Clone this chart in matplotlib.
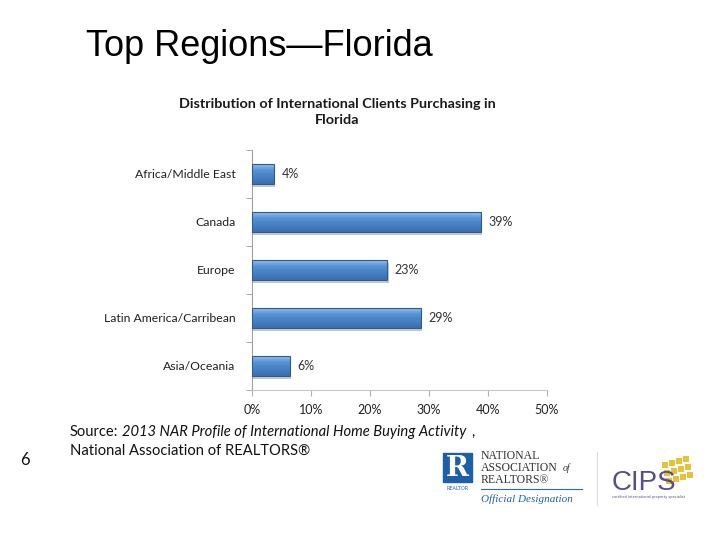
import matplotlib.pyplot as plt
import matplotlib.patches as mpatches
from matplotlib.colors import LinearSegmentedColormap
import numpy as np

regions = ['Africa/Middle East', 'Canada', 'Europe', 'Latin America/Carribean', 'Asia/Oceania']
shares = [3.7, 38.8, 22.9, 28.6, 6.4]
xticks = [0, 10, 20, 30, 40, 50]

fig = plt.figure(figsize=(7.2, 5.4), dpi=100)
fig.patch.set_facecolor('white')

# slide title
fig.text(86/720, 1 - 47/540, 'Top Regions\u2014Florida', fontsize=26, family='Liberation Sans',
         ha='left', va='center', color='black')

ax = fig.add_axes([252/720, 1 - 390/540, 295/720, 240/540])
y = np.arange(len(regions))
h = 0.42
bars = ax.barh(y, shares, height=h, color='none', edgecolor='#2d5b93', linewidth=0.8, zorder=3)

# gradient fill, light on top, darker at bottom
cmap = LinearSegmentedColormap.from_list('bar', ['#a3c4ec', '#5a93d4', '#4780c3', '#3a6dab'])
grad = np.linspace(0, 1, 64).reshape(-1, 1)
for rect in bars:
    x0, y0 = rect.get_x(), rect.get_y()
    w, hh = rect.get_width(), rect.get_height()
    im = ax.imshow(grad, extent=(x0, x0 + w, y0 + hh, y0), origin='upper', aspect='auto',
                   cmap=cmap, zorder=2)
    im.set_clip_path(rect)
    # little drop shadow
    ax.add_patch(mpatches.Rectangle((x0 + 0.25, y0 + 0.06), w, hh, color='#c8c8c8', zorder=1, lw=0))

for rect, v in zip(bars, shares):
    ax.text(rect.get_width() + 1.3, rect.get_y() + rect.get_height() / 2, f'{v:.0f}%',
            va='center', ha='left', fontsize=9, family='Lato', color='#333333')

ax.set_xlim(0, 50)
ax.set_ylim(len(regions) - 0.5, -0.5)
ax.set_xticks(xticks)
ax.set_xticklabels([f'{t}%' for t in xticks], fontsize=9, family='Lato', color='#222222')
ax.set_yticks(y)
ax.set_yticklabels(regions, fontsize=8.8, family='Lato', color='#222222')
ax.set_yticks(np.arange(len(regions) + 1) - 0.5, minor=True)
ax.tick_params(axis='y', which='major', length=0, pad=12)
ax.tick_params(axis='y', which='minor', length=4, color='#a0a0a0', direction='out')
ax.tick_params(axis='x', length=4, color='#b0b0b0', direction='out', pad=6)
for s in ['top', 'right']:
    ax.spines[s].set_visible(False)
ax.spines['left'].set_color('#a0a0a0')
ax.spines['bottom'].set_color('#c8c8c8')

fig.text(337/720, 1 - 112/540, 'Distribution of International Clients Purchasing in\nFlorida',
         ha='center', va='center', fontsize=10.4, fontweight='bold', family='Lato',
         linespacing=1.3, color='#1a1a1a')

# source and page number, pieces placed one after another
renderer = fig.canvas.get_renderer()
sy = 1 - 432/540
xpos = 70
for piece, st in [('Source:', 'normal'),
                  ('2013 NAR Profile of International Home Buying Activity', 'italic'),
                  (',', 'normal')]:
    t = fig.text(xpos/720, sy, piece, fontsize=10.6, family='Lato', style=st, va='center',
                 color='#111111')
    xpos += t.get_window_extent(renderer).width + 4
fig.text(70/720, 1 - 451/540, 'National Association of REALTORS\u00ae', fontsize=10.6, family='Lato',
         va='center', color='#111111')
fig.text(20/720, 1 - 460/540, '6', fontsize=12, family='Lato', va='center', color='#111111')

# NAR logo
fig.patches.append(mpatches.Rectangle((443/720, 1 - 482/540), 29/720, 29/540,
                                      transform=fig.transFigure, color='#1f5fa8'))
fig.text(457.5/720, 1 - 468/540, 'R', fontsize=20, fontweight='bold', family='DejaVu Serif',
         color='white', ha='center', va='center')
fig.text(457.5/720, 1 - 489/540, 'REALTOR', fontsize=3.5, color='#1f5fa8', ha='center', va='center')
fig.text(481/720, 1 - 468/540, 'NATIONAL\nASSOCIATION\nREALTORS\u00ae', fontsize=8.5,
         family='Liberation Serif', color='#333333', ha='left', va='center', linespacing=0.95)
fig.text(563/720, 1 - 468/540, 'of', fontsize=7, family='Liberation Serif', style='italic',
         color='#333333', ha='left', va='center')
fig.lines.append(plt.Line2D([481/720, 582/720], [1 - 489/540, 1 - 489/540],
                            transform=fig.transFigure, color='#2c6aa8', lw=0.8))
fig.text(481/720, 1 - 499/540, 'Official Designation', fontsize=8, family='Liberation Serif',
         style='italic', color='#1f5fa8', ha='left', va='center')
fig.lines.append(plt.Line2D([597/720, 597/720], [1 - 452/540, 1 - 505/540],
                            transform=fig.transFigure, color='#dddddd', lw=0.8))

# CIPS logo
for i in range(4):
    for j in range(3):
        fig.patches.append(mpatches.Rectangle(((662 + i * 7 + j * 2) / 720, 1 - (468 + j * 8 - i * 2) / 540),
                                              6/720, 6/540, transform=fig.transFigure,
                                              color='#e8c23a', lw=0))
fig.text(612/720, 1 - 483/540, 'CIPS', fontsize=20, family='Liberation Sans', color='#5a4c8c',
         ha='left', va='center')
fig.text(612/720, 1 - 497/540, 'certified international property specialist', fontsize=2.5,
         color='#5a4c8c', ha='left', va='center')

fig.savefig('out.png', dpi=100)
